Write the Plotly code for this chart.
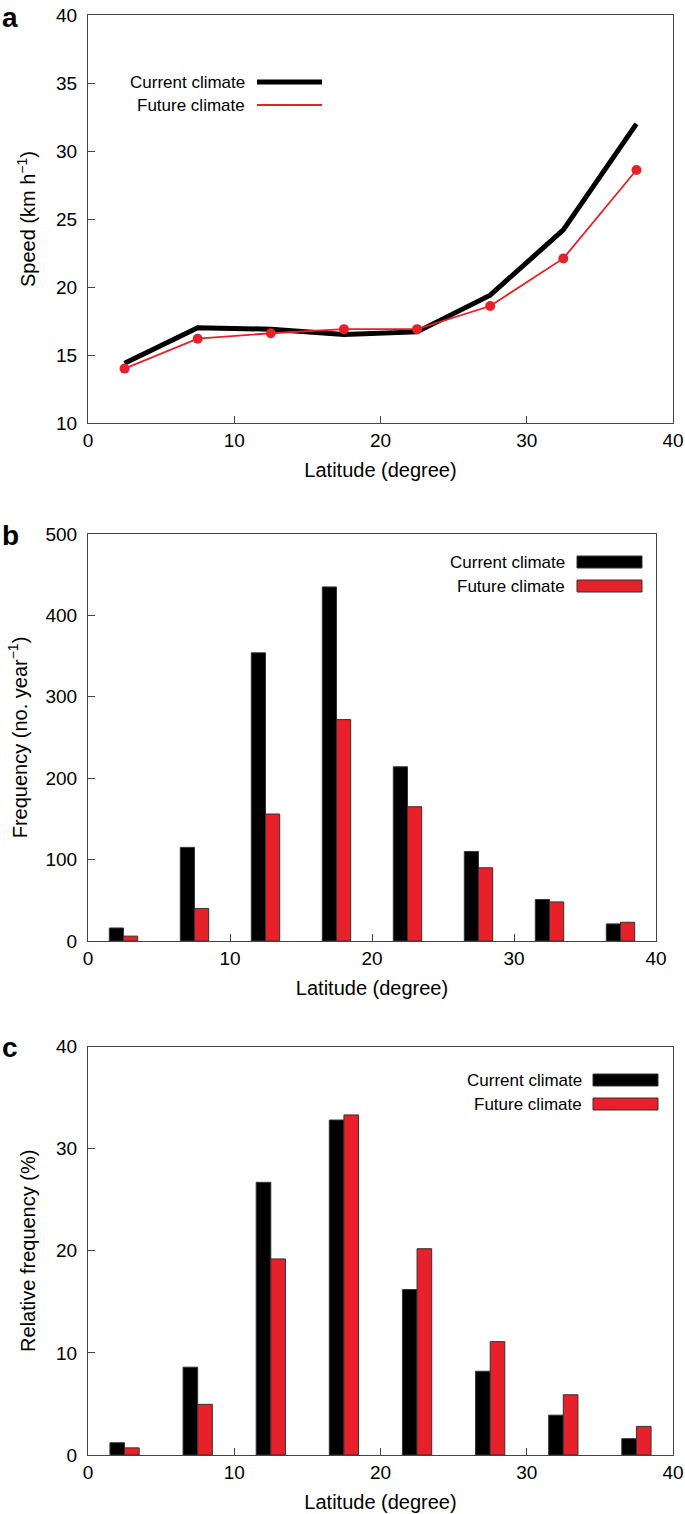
import plotly.graph_objects as go

# ---------------- data ----------------
lat_centers = [2.5, 7.5, 12.5, 17.5, 22.5, 27.5, 32.5, 37.5]

speed_current = [14.4, 17.0, 16.9, 16.5, 16.7, 19.4, 24.2, 32.0]
speed_future = [14.0, 16.2, 16.6, 16.9, 16.9, 18.6, 22.1, 28.6]

freq_current = [16, 115, 354, 435, 214, 110, 51, 21]
freq_future = [6, 40, 156, 272, 165, 90, 48, 23]

rel_current = [1.2, 8.6, 26.7, 32.8, 16.2, 8.2, 3.9, 1.6]
rel_future = [0.7, 4.96, 19.2, 33.3, 20.2, 11.1, 5.9, 2.8]

series_names = ["Current climate", "Future climate"]
x_ticks = [0, 10, 20, 30, 40]

# ---------------- style ----------------
W, H = 685, 1514
FONT = "Liberation Sans, Arial, Helvetica, sans-serif"
RED = "#e8202a"
AX = "#444444"


def px(x):
    return x / W


def py(y):
    return 1 - y / H


fig = go.Figure()

# Panel a: lines
fig.add_trace(go.Scatter(x=lat_centers, y=speed_current, mode="lines",
                         line=dict(color="black", width=5), name=series_names[0],
                         xaxis="x", yaxis="y", showlegend=False))
fig.add_trace(go.Scatter(x=lat_centers, y=speed_future, mode="lines+markers",
                         line=dict(color=RED, width=1.8), marker=dict(color=RED, size=10),
                         name=series_names[1], xaxis="x", yaxis="y", showlegend=False))

# Panel b: bars
fig.add_trace(go.Bar(x=lat_centers, y=freq_current, name=series_names[0],
                     marker=dict(color="black", line=dict(color="#333", width=1)),
                     xaxis="x2", yaxis="y2", showlegend=False, offsetgroup="c"))
fig.add_trace(go.Bar(x=lat_centers, y=freq_future, name=series_names[1],
                     marker=dict(color=RED, line=dict(color="#333", width=1)),
                     xaxis="x2", yaxis="y2", showlegend=False, offsetgroup="f"))

# Panel c: bars
fig.add_trace(go.Bar(x=lat_centers, y=rel_current, name=series_names[0],
                     marker=dict(color="black", line=dict(color="#333", width=1)),
                     xaxis="x3", yaxis="y3", showlegend=False, offsetgroup="c"))
fig.add_trace(go.Bar(x=lat_centers, y=rel_future, name=series_names[1],
                     marker=dict(color=RED, line=dict(color="#333", width=1)),
                     xaxis="x3", yaxis="y3", showlegend=False, offsetgroup="f"))

tickfont = dict(family=FONT, size=19, color="black")
titlefont = dict(family=FONT, size=20, color="black")


def xaxis(domain, anchor):
    return dict(domain=domain, anchor=anchor, range=[0, 40], tickvals=x_ticks,
                ticks="inside", ticklen=7, tickcolor=AX, tickwidth=1,
                showline=True, linecolor=AX, linewidth=1.2, mirror=True,
                showgrid=False, zeroline=False, tickfont=tickfont, automargin=False,
                title=dict(text="Latitude (degree)", font=titlefont, standoff=13))


def yaxis(domain, anchor, rng, dtick, title, standoff):
    return dict(domain=domain, anchor=anchor, range=rng, dtick=dtick, tick0=rng[0],
                ticks="inside", ticklen=7, tickcolor=AX, tickwidth=1,
                showline=True, linecolor=AX, linewidth=1.2, mirror=True,
                showgrid=False, zeroline=False, tickfont=tickfont, automargin=False,
                ticklabelstandoff=6,
                title=dict(text=title, font=titlefont, standoff=standoff))


fig.update_layout(
    template="none",
    width=W, height=H,
    margin=dict(l=0, r=0, t=0, b=0, pad=0),
    paper_bgcolor="white", plot_bgcolor="white",
    barmode="group", bargap=0.6, bargroupgap=0,
    font=dict(family=FONT, color="black"),
    xaxis=xaxis([px(88), px(673)], "y"),
    yaxis=yaxis([py(423), py(15)], "x", [10, 40], 5, "Speed (km h<sup>−1</sup>)", 14),
    xaxis2=xaxis([px(88), px(656)], "y2"),
    yaxis2=yaxis([py(941), py(534)], "x2", [0, 500], 100, "Frequency (no. year<sup>−1</sup>)", 12),
    xaxis3=xaxis([px(88), px(673)], "y3"),
    yaxis3=yaxis([py(1455), py(1046.5)], "x3", [0, 40], 10, "Relative frequency (%)", 14),
)

shapes = []
annotations = []

# panel letters
for letter, y in [("a", 0), ("b", 518), ("c", 1030)]:
    annotations.append(dict(text="<b>%s</b>" % letter, x=0, y=py(y), xref="paper", yref="paper",
                            xanchor="left", yanchor="top", showarrow=False,
                            font=dict(family=FONT, size=28, color="black")))

legfont = dict(family=FONT, size=17, color="black")

# panel a legend
for name, y, col, w in [(series_names[0], 82, "black", 5), (series_names[1], 105, RED, 2)]:
    annotations.append(dict(text=name, x=px(247), y=py(y), xref="paper", yref="paper",
                            xanchor="right", yanchor="middle", showarrow=False, font=legfont))
    shapes.append(dict(type="line", x0=px(257), x1=px(322), y0=py(y), y1=py(y),
                       xref="paper", yref="paper", line=dict(color=col, width=w)))

# panel b and c legends
for tx, bx0, bx1, ys in [(567, 577, 642, [562, 586]), (584, 593, 658, [1080, 1104])]:
    for name, y, col in [(series_names[0], ys[0], "black"), (series_names[1], ys[1], RED)]:
        annotations.append(dict(text=name, x=px(tx), y=py(y), xref="paper", yref="paper",
                                xanchor="right", yanchor="middle", showarrow=False, font=legfont))
        shapes.append(dict(type="rect", x0=px(bx0), x1=px(bx1), y0=py(y - 6), y1=py(y + 6),
                           xref="paper", yref="paper", fillcolor=col,
                           line=dict(color="#333", width=1)))

fig.update_layout(shapes=shapes, annotations=annotations)

fig.write_html("out.html",
               config={"displayModeBar": False},
               post_script="document.body.style.margin='0';document.body.style.overflow='hidden';")
